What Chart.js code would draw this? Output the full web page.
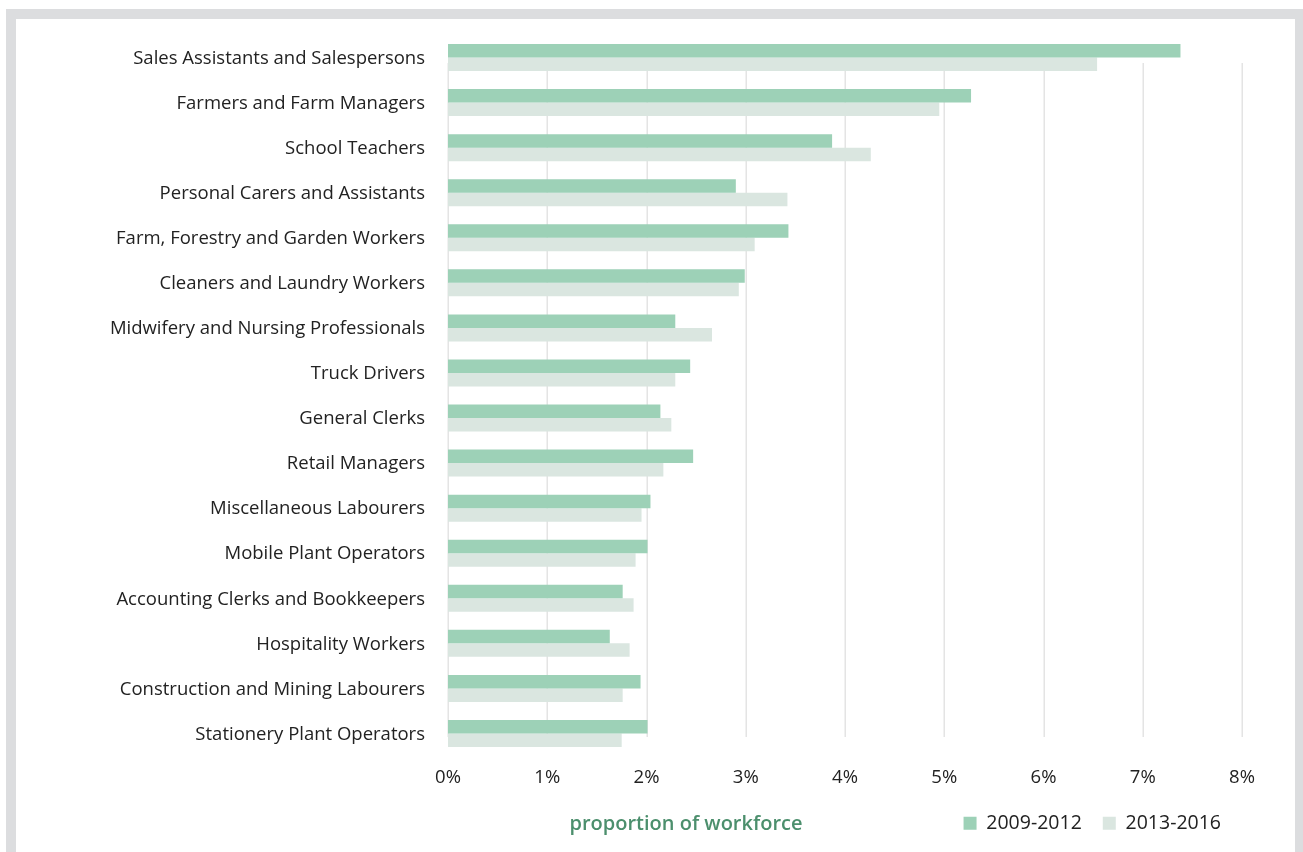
<!DOCTYPE html>
<html>
<head>
<meta charset="utf-8">
<script src="https://cdn.jsdelivr.net/npm/chart.js@4/dist/chart.umd.min.js"></script>
<style>
  html, body { margin: 0; padding: 0; background: #ffffff; overflow: hidden; }
  #frame {
    position: absolute; left: 6px; top: 9px;
    width: 1279px; height: 900px;
    border: 10px solid #dcdddf;
  }
  #wrap { position: absolute; left: 0; top: 0; width: 1303px; height: 852px; }
</style>
</head>
<body>
<div id="frame"></div>
<div id="wrap"><canvas id="chart" width="1303" height="852"></canvas></div>
<script>
// Occupations, largest share first
const occupations = [
  'Sales Assistants and Salespersons',
  'Farmers and Farm Managers',
  'School Teachers',
  'Personal Carers and Assistants',
  'Farm, Forestry and Garden Workers',
  'Cleaners and Laundry Workers',
  'Midwifery and Nursing Professionals',
  'Truck Drivers',
  'General Clerks',
  'Retail Managers',
  'Miscellaneous Labourers',
  'Mobile Plant Operators',
  'Accounting Clerks and Bookkeepers',
  'Hospitality Workers',
  'Construction and Mining Labourers',
  'Stationery Plant Operators'
];

// Share of workforce (%)
const share2009to2012 = [7.38, 5.27, 3.87, 2.90, 3.43, 2.99, 2.29, 2.44, 2.14, 2.47, 2.04, 2.01, 1.76, 1.63, 1.94, 2.01];
const share2013to2016 = [6.54, 4.95, 4.26, 3.42, 3.09, 2.93, 2.66, 2.29, 2.25, 2.17, 1.95, 1.89, 1.87, 1.83, 1.76, 1.75];

const periodLabels = ['2009-2012', '2013-2016'];
const xTickValues = [0, 1, 2, 3, 4, 5, 6, 7, 8];
const axisTitle = 'proportion of workforce';

const FONT = '"Open Sans", "Noto Sans", sans-serif';

// Vertical gridlines at each x tick, drawn behind the bars
const gridPlugin = {
  id: 'verticalGrid',
  beforeDatasetsDraw(chart) {
    const { ctx, scales: { x, y } } = chart;
    const top = y.getPixelForValue(0) + 5.5;
    const bottom = y.getPixelForValue(occupations.length - 1) + 3.5;
    ctx.save();
    ctx.strokeStyle = '#e4e4e4';
    ctx.lineWidth = 1.5;
    x.ticks.forEach(t => {
      const px = Math.round(x.getPixelForValue(t.value)) + 0.25;
      ctx.beginPath();
      ctx.moveTo(px, top);
      ctx.lineTo(px, bottom);
      ctx.stroke();
    });
    ctx.restore();
  }
};

// Axis title sits on the legend row, left of the legend
const axisTitlePlugin = {
  id: 'axisTitleRow',
  afterDraw(chart) {
    const { ctx } = chart;
    const legend = chart.legend;
    const yMid = legend.legendHitBoxes.length
      ? legend.legendHitBoxes[0].top + legend.legendHitBoxes[0].height / 2
      : chart.height - 30;
    ctx.save();
    ctx.font = '600 20px ' + FONT;
    ctx.fillStyle = '#4c8f6d';
    ctx.textAlign = 'center';
    ctx.textBaseline = 'middle';
    ctx.fillText(axisTitle, 686, yMid + 1);
    ctx.restore();
  }
};

new Chart(document.getElementById('chart'), {
  type: 'bar',
  data: {
    labels: occupations,
    datasets: [
      { label: periodLabels[0], data: share2009to2012, backgroundColor: '#9dd1b7', borderWidth: 0 },
      { label: periodLabels[1], data: share2013to2016, backgroundColor: '#dae6e0', borderWidth: 0 }
    ]
  },
  options: {
    indexAxis: 'y',
    responsive: false,
    animation: false,
    devicePixelRatio: 1,
    layout: { padding: { top: 35, right: 61, left: 0, bottom: 9 } },
    datasets: { bar: { categoryPercentage: 0.6, barPercentage: 1.0 } },
    scales: {
      x: {
        min: 0, max: 8,
        afterBuildTicks(scale) { scale.ticks = xTickValues.map(v => ({ value: v })); },
        afterFit(scale) { scale.height = 36.5; },
        grid: { display: false, drawTicks: false },
        border: { display: false },
        ticks: {
          padding: 11,
          color: '#222222',
          font: { family: FONT, size: 18.5 },
          callback: v => v + '%'
        }
      },
      y: {
        afterFit(scale) { scale.width = 448; },
        grid: { display: false, drawTicks: false },
        border: { display: false },
        ticks: {
          padding: 23,
          labelOffset: 1,
          color: '#222222',
          font: { family: FONT, size: 18.5 },
          autoSkip: false
        }
      }
    },
    plugins: {
      legend: {
        position: 'bottom',
        align: 'end',
        labels: {
          boxWidth: 13,
          boxHeight: 13,
          padding: 21,
          color: '#222222',
          font: { family: FONT, size: 19.5 }
        }
      },
      tooltip: { enabled: false }
    }
  },
  plugins: [gridPlugin, axisTitlePlugin]
});
</script>
</body>
</html>
